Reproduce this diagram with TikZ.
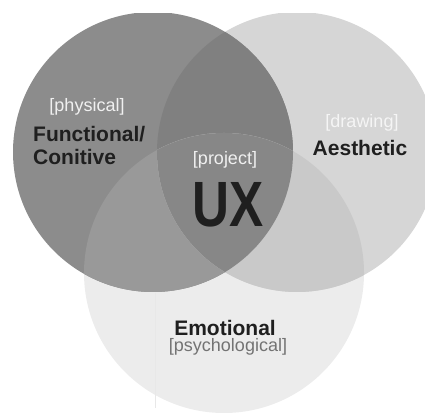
\documentclass[tikz,border=0pt]{standalone}
\usepackage{fontspec}
\setmainfont{Liberation Sans}
\usepackage{xcolor}
\usetikzlibrary{positioning}

\definecolor{funcgray}{gray}{0.55}
\definecolor{aesgray}{gray}{0.84}
\definecolor{emogray}{gray}{0.925}
\definecolor{fagray}{gray}{0.50}
\definecolor{fegray}{gray}{0.60}
\definecolor{aegray}{gray}{0.79}
\definecolor{allgray}{gray}{0.53}

\begin{document}
\begin{tikzpicture}[
  x=1pt,y=1pt,
  setr/.style={radius=140},
  tag/.style={font=\fontsize{18}{20}\selectfont,inner sep=0pt},
  setlbl/.style={font=\fontsize{21}{23}\selectfont\bfseries,text=black!88,inner sep=0pt,align=left},
  big/.style={font=\fontsize{64}{64}\selectfont\bfseries,text=black!88,inner sep=0pt,xscale=0.8},
]
\useasboundingbox (0,0) rectangle (425,412);
\clip (0,0) rectangle (425,398);

\coordinate (func) at (153,260);
\coordinate (aes) at (297,260);
\coordinate (emo) at (224,139);

% the three sets
\fill[emogray] (emo) circle[setr];
\fill[aesgray] (aes) circle[setr];
\fill[funcgray] (func) circle[setr];

% overlaps
\begin{scope}
  \clip (func) circle[setr];
  \fill[fagray] (aes) circle[setr];
  \fill[fegray] (emo) circle[setr];
\end{scope}
\begin{scope}
  \clip (aes) circle[setr];
  \fill[aegray] (emo) circle[setr];
  \clip (func) circle[setr];
  \fill[allgray] (emo) circle[setr];
\end{scope}

% seam in the scan
\coordinate (seamtop) at (155,119);
\coordinate (seambot) at (155,4);
\draw[black!9,line width=0.5pt] (seamtop) -- (seambot);

% labels
\node[setlbl,anchor=base west] (funclbl) at (33,247) {Functional/\\Conitive};
\node[tag,text=white!88!gray,anchor=base] (phys) at (87,300) {[physical]};
\node[setlbl,anchor=base] (aeslbl) at (360,256) {Aesthetic};
\node[tag,text=white!92!gray,anchor=base] (drawtag) at (362,284) {[drawing]};
\node[big,anchor=base] (ux) at (228,185) {UX};
\node[tag,text=white!88!gray,anchor=base] (proj) at (225,247) {[project]};
\node[setlbl,anchor=base] (emolbl) at (225,77) {Emotional};
\node[tag,text=black!55,anchor=base] (psy) at (228,60) {[psychological]};
\end{tikzpicture}
\end{document}
